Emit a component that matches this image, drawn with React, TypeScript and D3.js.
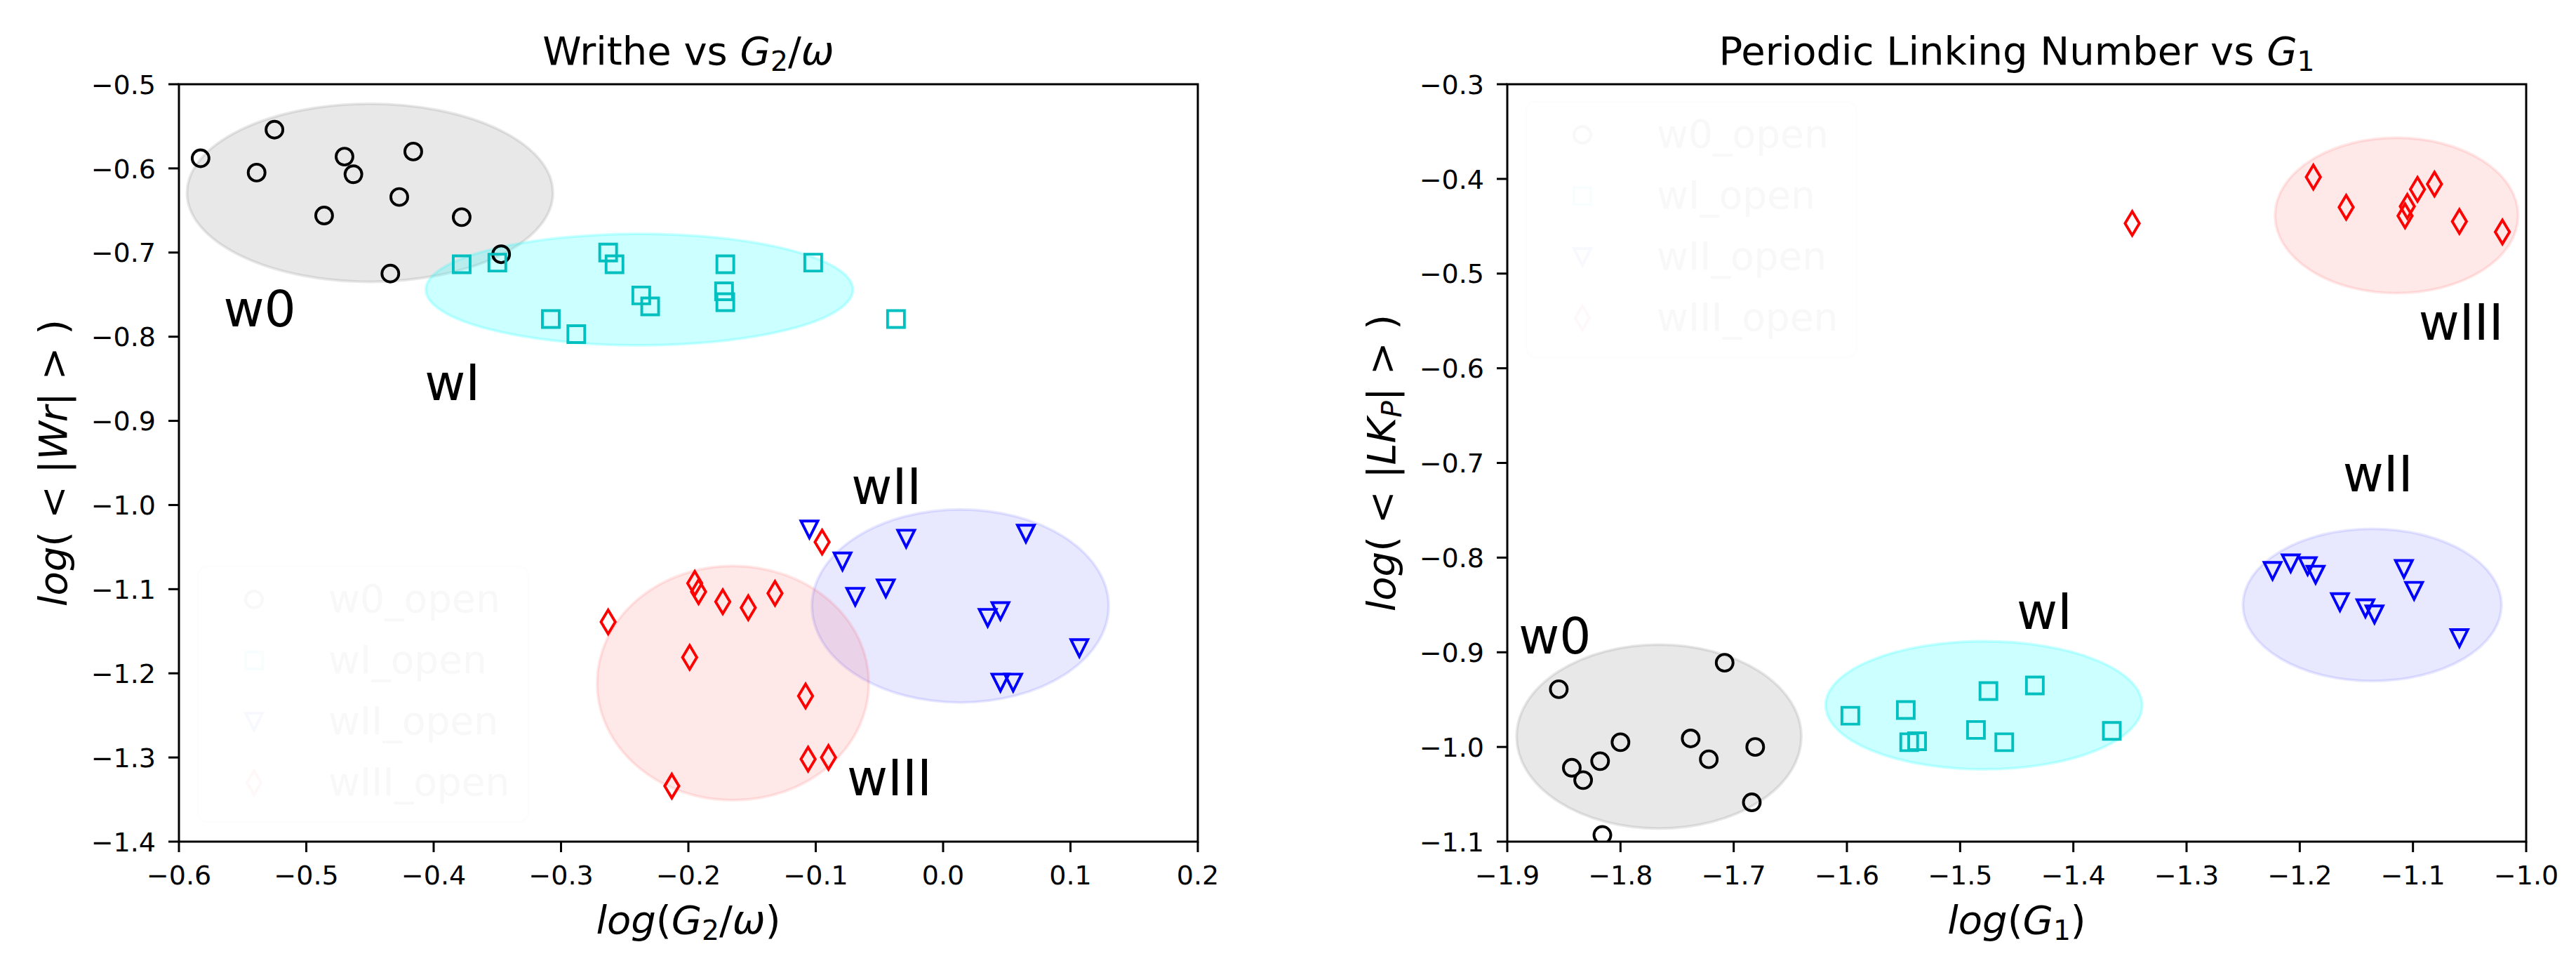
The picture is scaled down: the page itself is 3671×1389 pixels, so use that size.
import React from 'react';
import * as d3 from 'd3';

type Pt = [number, number];
type Cloud = [number, number, number, number]; // cx, cy, width, height

// ---- Writhe vs G2/omega (left panel) ----
const writheXTicks = [-0.6, -0.5, -0.4, -0.3, -0.2, -0.1, 0.0, 0.1, 0.2];
const writheYTicks = [-0.5, -0.6, -0.7, -0.8, -0.9, -1.0, -1.1, -1.2, -1.3, -1.4];

const writheW0: Pt[] = [
  [-0.583, -0.588], [-0.525, -0.554], [-0.539, -0.605], [-0.470, -0.586],
  [-0.463, -0.607], [-0.416, -0.580], [-0.427, -0.634], [-0.486, -0.656],
  [-0.378, -0.658], [-0.347, -0.702], [-0.434, -0.725],
];
const writheW1: Pt[] = [
  [-0.378, -0.714], [-0.350, -0.712], [-0.263, -0.700], [-0.258, -0.714],
  [-0.171, -0.714], [-0.102, -0.712], [-0.237, -0.751], [-0.230, -0.764],
  [-0.172, -0.746], [-0.171, -0.759], [-0.308, -0.779], [-0.288, -0.797],
  [-0.037, -0.779],
];
const writheW2: Pt[] = [
  [-0.105, -1.029], [-0.029, -1.040], [0.065, -1.034], [-0.079, -1.067],
  [-0.045, -1.099], [-0.069, -1.109], [0.045, -1.126], [0.035, -1.134],
  [0.107, -1.170], [0.045, -1.211], [0.055, -1.211],
];
const writheW3: Pt[] = [
  [-0.263, -1.139], [-0.195, -1.093], [-0.192, -1.103], [-0.173, -1.115],
  [-0.153, -1.122], [-0.132, -1.105], [-0.199, -1.181], [-0.108, -1.227],
  [-0.106, -1.302], [-0.090, -1.300], [-0.213, -1.334], [-0.095, -1.044],
];
const writheClouds: Cloud[] = [
  [-0.450, -0.629, 0.289, 0.214],
  [-0.2385, -0.744, 0.337, 0.135],
  [0.0135, -1.120, 0.2347, 0.232],
  [-0.165, -1.2116, 0.215, 0.281],
];
const writheTags: Pt[] = [[-0.565, -0.788], [-0.407, -0.875], [-0.072, -0.999], [-0.0755, -1.345]];

// ---- Periodic linking number vs G1 (right panel) ----
const linkXTicks = [-1.9, -1.8, -1.7, -1.6, -1.5, -1.4, -1.3, -1.2, -1.1, -1.0];
const linkYTicks = [-0.3, -0.4, -0.5, -0.6, -0.7, -0.8, -0.9, -1.0, -1.1];

const linkW0: Pt[] = [
  [-1.8545, -0.939], [-1.708, -0.911], [-1.800, -0.995], [-1.818, -1.015],
  [-1.843, -1.022], [-1.833, -1.035], [-1.738, -0.991], [-1.722, -1.013],
  [-1.681, -1.000], [-1.684, -1.0585], [-1.816, -1.093],
];
const linkW1: Pt[] = [
  [-1.597, -0.967], [-1.548, -0.961], [-1.545, -0.995], [-1.538, -0.994],
  [-1.475, -0.941], [-1.486, -0.982], [-1.461, -0.995], [-1.434, -0.935],
  [-1.366, -0.983],
];
const linkW2: Pt[] = [
  [-1.224, -0.814], [-1.208, -0.806], [-1.193, -0.809], [-1.186, -0.818],
  [-1.108, -0.812], [-1.099, -0.835], [-1.1645, -0.847], [-1.142, -0.8535],
  [-1.134, -0.860], [-1.059, -0.885],
];
const linkW3: Pt[] = [
  [-1.348, -0.447], [-1.188, -0.398], [-1.159, -0.430], [-1.107, -0.439],
  [-1.105, -0.429], [-1.096, -0.411], [-1.081, -0.4055], [-1.059, -0.445],
  [-1.021, -0.456],
];
const linkClouds: Cloud[] = [
  [-1.766, -0.989, 0.2534, 0.1964],
  [-1.479, -0.956, 0.2815, 0.1376],
  [-1.136, -0.850, 0.2303, 0.163],
  [-1.1145, -0.4386, 0.2166, 0.1664],
];
const linkTags: Pt[] = [[-1.89, -0.901], [-1.45, -0.875], [-1.162, -0.73], [-1.095, -0.57]];

const groupNames = ['w0', 'wI', 'wII', 'wIII'];
const legendNames = groupNames.map(g => g + '_open');

// ---- styles ----
const FONT = 'DejaVu Sans, sans-serif';
const groups = [
  { marker: 'o', color: '#000000', fill: '#808080', alpha: 0.18 },
  { marker: 's', color: '#00bfbf', fill: '#00ffff', alpha: 0.2 },
  { marker: 'v', color: '#0000ff', fill: '#0000ff', alpha: 0.09 },
  { marker: 'd', color: '#ff0000', fill: '#ff0000', alpha: 0.09 },
];
const MS = 24;     // marker size px
const MLW = 3.9;   // marker edge width
const AX_W = 1452;
const AX_TOP = 120;
const AX_BOT = 1199;

type Seg = { t: string; it?: boolean; sub?: boolean };

function markerPath(kind: string, s: number): string {
  const h = s / 2;
  if (kind === 'o') {
    const p = d3.path();
    p.arc(0, 0, h, 0, Math.PI * 2);
    p.closePath();
    return p.toString();
  }
  if (kind === 's') return `M${-h},${-h}H${h}V${h}H${-h}Z`;
  if (kind === 'v') return `M0,${h}L${-h},${-h}L${h},${-h}Z`;
  const a = s * Math.SQRT1_2;
  const b = 0.6 * a;
  return `M0,${-a}L${b},0L0,${a}L${-b},0Z`;
}

function MathText({ segs, fs }: { segs: Seg[]; fs: number }) {
  const shift = 0.16 * fs;
  let down = false;
  return (
    <>
      {segs.map((s, i) => {
        let dy: number | undefined;
        if (s.sub && !down) { dy = shift; down = true; }
        else if (!s.sub && down) { dy = -shift; down = false; }
        return (
          <tspan key={i} dy={dy} fontStyle={s.it ? 'italic' : 'normal'}
            fontSize={s.sub ? fs * 0.7 : fs}>{s.t}</tspan>
        );
      })}
    </>
  );
}

type PanelProps = {
  id: string;
  left: number;
  xDomain: [number, number];
  yDomain: [number, number];
  xTicks: number[];
  yTicks: number[];
  series: Pt[][];
  clouds: Cloud[];
  tags: Pt[];
  title: Seg[];
  xLabel: Seg[];
  yLabel: Seg[];
  legendTop: boolean;
};

function Panel(p: PanelProps) {
  const x = d3.scaleLinear().domain(p.xDomain).range([p.left, p.left + AX_W]);
  const y = d3.scaleLinear().domain(p.yDomain).range([AX_BOT, AX_TOP]);
  const fmt = d3.format('.1f');
  const cx = p.left + AX_W / 2;
  const legW = 471, legH = 364;
  const legX = p.left + 27;
  const legY = p.legendTop ? AX_TOP + 25 : AX_BOT - 28 - legH;

  return (
    <g>
      <defs>
        <clipPath id={`clip-${p.id}`}>
          <rect x={p.left} y={AX_TOP} width={AX_W} height={AX_BOT - AX_TOP} />
        </clipPath>
      </defs>

      <g clipPath={`url(#clip-${p.id})`}>
        {p.clouds.map(([ex, ey, ew, eh], i) => (
          <ellipse key={i} cx={x(ex)} cy={y(ey)}
            rx={Math.abs(x(ex + ew / 2) - x(ex)) - 1.5}
            ry={Math.abs(y(ey + eh / 2) - y(ey)) - 1.5}
            fill={groups[i].fill} fillOpacity={groups[i].alpha}
            stroke={groups[i].fill} strokeOpacity={groups[i].alpha} strokeWidth={3.9} />
        ))}

        {/* nearly invisible legend */}
        <g opacity={0.025}>
          <rect x={legX} y={legY} width={legW} height={legH} rx={14}
            fill="#ffffff" stroke="#cccccc" strokeWidth={3} />
          {legendNames.map((name, i) => (
            <g key={name}>
              <path d={markerPath(groups[i].marker, MS)}
                transform={`translate(${legX + 80},${legY + 47 + i * 87})`}
                fill="none" stroke={groups[i].color} strokeWidth={MLW} strokeLinejoin="miter" />
              <text x={legX + 186} y={legY + 47 + i * 87} dy="0.33em"
                fontFamily={FONT} fontSize={55} fill="#000">{name}</text>
            </g>
          ))}
        </g>

        {p.series.map((pts, gi) => (
          <g key={gi}>
            {pts.map(([px, py], j) => (
              <path key={j} d={markerPath(groups[gi].marker, MS)}
                transform={`translate(${x(px)},${y(py)})`}
                fill="none" stroke={groups[gi].color} strokeWidth={MLW}
                strokeLinejoin={groups[gi].marker === 'o' ? 'round' : 'miter'} />
            ))}
          </g>
        ))}
      </g>

      {p.tags.map(([tx, ty], i) => (
        <text key={i} x={x(tx)} y={y(ty)} fontFamily={FONT} fontSize={71} fill="#000">
          {groupNames[i]}
        </text>
      ))}

      {/* frame */}
      <rect x={p.left} y={AX_TOP} width={AX_W} height={AX_BOT - AX_TOP}
        fill="none" stroke="#000" strokeWidth={3} />

      {/* x axis */}
      {p.xTicks.map(t => (
        <g key={t} transform={`translate(${x(t)},${AX_BOT})`}>
          <line y1={0} y2={15} stroke="#000" strokeWidth={3} />
          <text y={61} textAnchor="middle" fontFamily={FONT} fontSize={38} fill="#000">{fmt(t)}</text>
        </g>
      ))}
      {/* y axis */}
      {p.yTicks.map(t => (
        <g key={t} transform={`translate(${p.left},${y(t)})`}>
          <line x1={0} x2={-15} stroke="#000" strokeWidth={3} />
          <text x={-33} dy="0.36em" textAnchor="end" fontFamily={FONT} fontSize={38} fill="#000">{fmt(t)}</text>
        </g>
      ))}

      <text x={cx} y={92} textAnchor="middle" fontFamily={FONT} fill="#000" style={{ whiteSpace: 'pre' }}>
        <MathText segs={p.title} fs={56} />
      </text>
      <text x={cx} y={1330} textAnchor="middle" fontFamily={FONT} fill="#000" style={{ whiteSpace: 'pre' }}>
        <MathText segs={p.xLabel} fs={56} />
      </text>
      <text transform={`translate(${p.left - 160},${(AX_TOP + AX_BOT) / 2}) rotate(-90)`}
        textAnchor="middle" fontFamily={FONT} fill="#000" style={{ whiteSpace: 'pre' }}>
        <MathText segs={p.yLabel} fs={56} />
      </text>
    </g>
  );
}

export default function App() {
  return (
    <svg width={3671} height={1389} viewBox="0 0 3671 1389"
      style={{ position: 'absolute', left: 0, top: 0, display: 'block', background: '#fff' }}>
      <rect width={3671} height={1389} fill="#fff" />
      <Panel
        id="writhe"
        left={255}
        xDomain={[-0.6, 0.2]}
        yDomain={[-1.4, -0.5]}
        xTicks={writheXTicks}
        yTicks={writheYTicks}
        series={[writheW0, writheW1, writheW2, writheW3]}
        clouds={writheClouds}
        tags={writheTags}
        title={[{ t: 'Writhe vs ' }, { t: 'G', it: true }, { t: '2', sub: true }, { t: '/' }, { t: 'ω', it: true }]}
        xLabel={[{ t: 'log', it: true }, { t: '(' }, { t: 'G', it: true }, { t: '2', sub: true }, { t: '/' }, { t: 'ω', it: true }, { t: ')' }]}
        yLabel={[{ t: 'log', it: true }, { t: '( < |' }, { t: 'Wr', it: true }, { t: '| > )' }]}
        legendTop={false}
      />
      <Panel
        id="link"
        left={2148}
        xDomain={[-1.9, -1.0]}
        yDomain={[-1.1, -0.3]}
        xTicks={linkXTicks}
        yTicks={linkYTicks}
        series={[linkW0, linkW1, linkW2, linkW3]}
        clouds={linkClouds}
        tags={linkTags}
        title={[{ t: 'Periodic Linking Number vs ' }, { t: 'G', it: true }, { t: '1', sub: true }]}
        xLabel={[{ t: 'log', it: true }, { t: '(' }, { t: 'G', it: true }, { t: '1', sub: true }, { t: ')' }]}
        yLabel={[{ t: 'log', it: true }, { t: '( < |' }, { t: 'LK', it: true }, { t: 'P', it: true, sub: true }, { t: '| > )' }]}
        legendTop={true}
      />
    </svg>
  );
}
